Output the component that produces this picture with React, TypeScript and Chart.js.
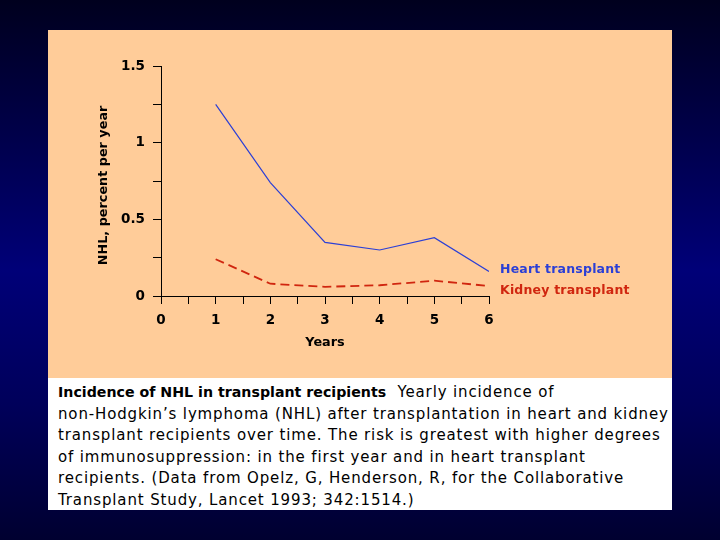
import React, { useEffect, useRef } from "react";
import { Chart, registerables } from "chart.js";

Chart.register(...registerables);

const years = [1, 2, 3, 4, 5, 6];
const heartValues = [1.25, 0.74, 0.35, 0.3, 0.38, 0.16];
const kidneyValues = [0.24, 0.08, 0.06, 0.07, 0.1, 0.065];
const seriesLabels = ["Heart transplant", "Kidney transplant"];
const yAxisTitle = "NHL, percent per year  ";
const xAxisTitle = "Years";
const captionBold = "Incidence of NHL in transplant recipients";
const captionLines = [
  "  Yearly incidence of",
  "non-Hodgkin\u2019s lymphoma (NHL) after transplantation in heart and kidney",
  "transplant recipients over time. The risk is greatest with higher degrees",
  "of immunosuppression: in the first year and in heart transplant",
  "recipients. (Data from Opelz, G, Henderson, R, for the Collaborative",
  "Transplant Study, Lancet 1993; 342:1514.)",
];

const HEART = "#2b3fd6";
const KIDNEY = "#d0260f";
const FONT = "'DejaVu Sans', sans-serif";

const endLabels = {
  id: "endLabels",
  afterDatasetsDraw(chart: any) {
    const { ctx } = chart;
    const offsets = [-2, 5];
    chart.data.datasets.forEach((ds: any, i: number) => {
      const meta = chart.getDatasetMeta(i);
      const last = meta.data[meta.data.length - 1];
      if (!last) return;
      ctx.save();
      ctx.font = `bold 12.5px ${FONT}`;
      try {
        (ctx as any).letterSpacing = "0.2px";
      } catch (e) {}
      ctx.fillStyle = ds.borderColor;
      ctx.textAlign = "left";
      ctx.textBaseline = "middle";
      ctx.fillText(ds.label, last.x + 11, last.y + offsets[i]);
      ctx.restore();
    });
  },
};

function NHLChart() {
  const ref = useRef<HTMLCanvasElement | null>(null);
  useEffect(() => {
    if (!ref.current) return;
    const chart = new Chart(ref.current, {
      type: "line",
      data: {
        labels: years,
        datasets: [
          {
            label: seriesLabels[0],
            data: years.map((x, i) => ({ x, y: heartValues[i] })),
            borderColor: HEART,
            borderWidth: 1.2,
            pointRadius: 0,
            tension: 0,
            fill: false,
          },
          {
            label: seriesLabels[1],
            data: years.map((x, i) => ({ x, y: kidneyValues[i] })),
            borderColor: KIDNEY,
            borderWidth: 1.8,
            borderDash: [9, 5],
            pointRadius: 0,
            tension: 0,
            fill: false,
          },
        ],
      },
      options: {
        responsive: false,
        animation: false,
        layout: { padding: { left: 0, right: 183, top: 36, bottom: 0 } },
        plugins: { legend: { display: false }, tooltip: { enabled: false } },
        scales: {
          x: {
            type: "linear",
            min: 0,
            max: 6,
            afterFit: (s: any) => {
              s.height = 82;
            },
            ticks: {
              stepSize: 0.5,
              autoSkip: false,
              maxRotation: 0,
              padding: 8,
              color: "#000",
              font: { family: FONT, weight: "bold", size: 13.5 },
              callback: (v: any) => (Number(v) % 1 === 0 ? String(v) : ""),
            },
            grid: {
              drawOnChartArea: false,
              drawTicks: true,
              tickLength: 8,
              color: "#000",
              lineWidth: 1,
            },
            border: { display: true, color: "#000", width: 1 },
            title: {
              display: true,
              text: xAxisTitle,
              color: "#000",
              font: { family: FONT, weight: "bold", size: 12.8 },
              padding: { top: 0, bottom: 28 },
            },
          },
          y: {
            type: "linear",
            min: 0,
            max: 1.5,
            afterFit: (s: any) => {
              s.width = 113;
            },
            ticks: {
              stepSize: 0.25,
              autoSkip: false,
              padding: 8,
              color: "#000",
              font: { family: FONT, weight: "bold", size: 13.5 },
              callback: (v: any) =>
                Math.abs((Number(v) * 2) % 1) < 1e-9 ? String(v) : "",
            },
            grid: {
              drawOnChartArea: false,
              drawTicks: true,
              tickLength: 8,
              color: "#000",
              lineWidth: 1,
            },
            border: { display: true, color: "#000", width: 1 },
            title: {
              display: true,
              text: yAxisTitle,
              color: "#000",
              font: { family: FONT, weight: "bold", size: 12.8 },
              padding: { top: 48, bottom: 0 },
            },
          },
        },
      },
      plugins: [endLabels],
    } as any);
    return () => chart.destroy();
  }, []);
  return <canvas ref={ref} width={624} height={348} style={{ display: "block" }} />;
}

export default function App() {
  return (
    <div
      style={{
        position: "fixed",
        left: 0,
        top: 0,
        width: 720,
        height: 540,
        background:
          "linear-gradient(180deg, #00001e 0%, #00004a 25%, #000078 50%, #00005a 75%, #000030 100%)",
        overflow: "hidden",
      }}
    >
      <div
        style={{
          position: "absolute",
          left: 48,
          top: 30,
          width: 624,
          height: 348,
          background: "#ffcc99",
        }}
      >
        <NHLChart />
      </div>
      <div
        style={{
          position: "absolute",
          left: 48,
          top: 378,
          width: 624,
          height: 132,
          background: "#ffffff",
          boxSizing: "border-box",
          padding: "4px 0 0 10px",
          fontFamily: FONT,
          fontSize: 15,
          letterSpacing: "0.86px",
          lineHeight: "21.5px",
          color: "#000",
          whiteSpace: "pre",
          overflow: "hidden",
        }}
      >
        <span style={{ fontWeight: "bold", fontSize: 14.2, letterSpacing: 0 }}>{captionBold}</span>
        {captionLines.map((l, i) => (
          <React.Fragment key={i}>
            {i > 0 ? <br /> : null}
            {l}
          </React.Fragment>
        ))}
      </div>
    </div>
  );
}
